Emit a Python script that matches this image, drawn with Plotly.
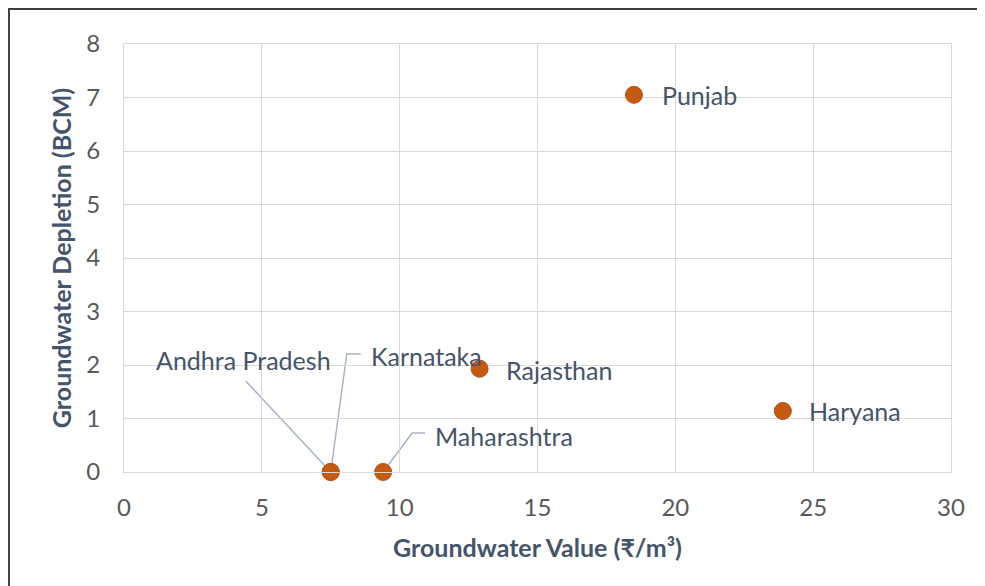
import plotly.graph_objects as go

states = ["Punjab", "Rajasthan", "Haryana", "Andhra Pradesh", "Karnataka", "Maharashtra"]
gw_value = [18.5, 12.9, 23.9, 7.5, 7.5, 9.4]
gw_depletion = [7.05, 1.93, 1.14, 0.0, 0.0, 0.0]
x_ticks = [0, 5, 10, 15, 20, 25, 30]
y_ticks = [0, 1, 2, 3, 4, 5, 6, 7, 8]

FONT = "Lato, 'Open Sans', sans-serif"
TXT = "#44546A"
TICK = "#595959"
GRID = "#D9D9D9"

fig = go.Figure()
fig.add_trace(go.Scatter(
    x=gw_value, y=gw_depletion, mode="markers",
    marker=dict(size=17, color="#C55A11", line=dict(color="#B4500F", width=1)),
    cliponaxis=False, hoverinfo="text", text=states,
))

# label placements (pixel offsets from each point)
label_cfg = {
    "Punjab": dict(xshift=26, yshift=0, xanchor="left"),
    "Rajasthan": dict(xshift=24, yshift=-1, xanchor="left"),
    "Haryana": dict(xshift=24, yshift=0, xanchor="left"),
    "Andhra Pradesh": dict(xshift=2, yshift=112, xanchor="right"),
    "Karnataka": dict(xshift=38, yshift=116, xanchor="left"),
    "Maharashtra": dict(xshift=50, yshift=36, xanchor="left"),
}
leaders = {
    "Andhra Pradesh": "M0,0 L-85,91",
    "Karnataka": "M0,0 L16,118 L30,118",
    "Maharashtra": "M0,0 L29,39 L42,39",
}
for s, xv, yv in zip(states, gw_value, gw_depletion):
    c = label_cfg[s]
    fig.add_annotation(x=xv, y=yv, xref="x", yref="y", text=s, showarrow=False,
                       xanchor=c["xanchor"], yanchor="middle",
                       xshift=c["xshift"], yshift=c["yshift"],
                       font=dict(family=FONT, size=25, color=TXT))
    if s in leaders:
        fig.add_shape(type="path", xref="x", yref="y", xsizemode="pixel", ysizemode="pixel",
                      xanchor=xv, yanchor=yv, path=leaders[s],
                      line=dict(color="#A6B4C8", width=1.5), layer="below")

# outer frame at figure edge (only top and left edges visible)
fig.add_shape(type="path", xref="paper", yref="paper",
              path="M -0.1391,-0.6 L -0.1391,1.0818 L 1.3,1.0818",
              line=dict(color="#3F3F3F", width=2))

axis_common = dict(showgrid=True, gridcolor=GRID, gridwidth=1, zeroline=False,
                   showline=True, linecolor=GRID, linewidth=1, mirror=True,
                   ticks="", tickfont=dict(family=FONT, size=24, color=TICK))

fig.update_xaxes(range=[0, 30], tickvals=x_ticks, ticklabelstandoff=14,
                 title=dict(text="<b>Groundwater Value (₹/m³)</b>", standoff=19,
                            font=dict(family=FONT, size=25, color=TXT)),
                 **axis_common)
fig.update_yaxes(range=[0, 8], tickvals=y_ticks, ticklabelstandoff=18,
                 title=dict(text="<b>Groundwater Depletion (BCM)</b>", standoff=7,
                            font=dict(family=FONT, size=25, color=TXT)),
                 **axis_common)

fig.update_layout(width=977, height=578, margin=dict(l=116, r=34, t=36, b=114),
                  plot_bgcolor="white", paper_bgcolor="white", showlegend=False)

fig.write_html("out.html")
